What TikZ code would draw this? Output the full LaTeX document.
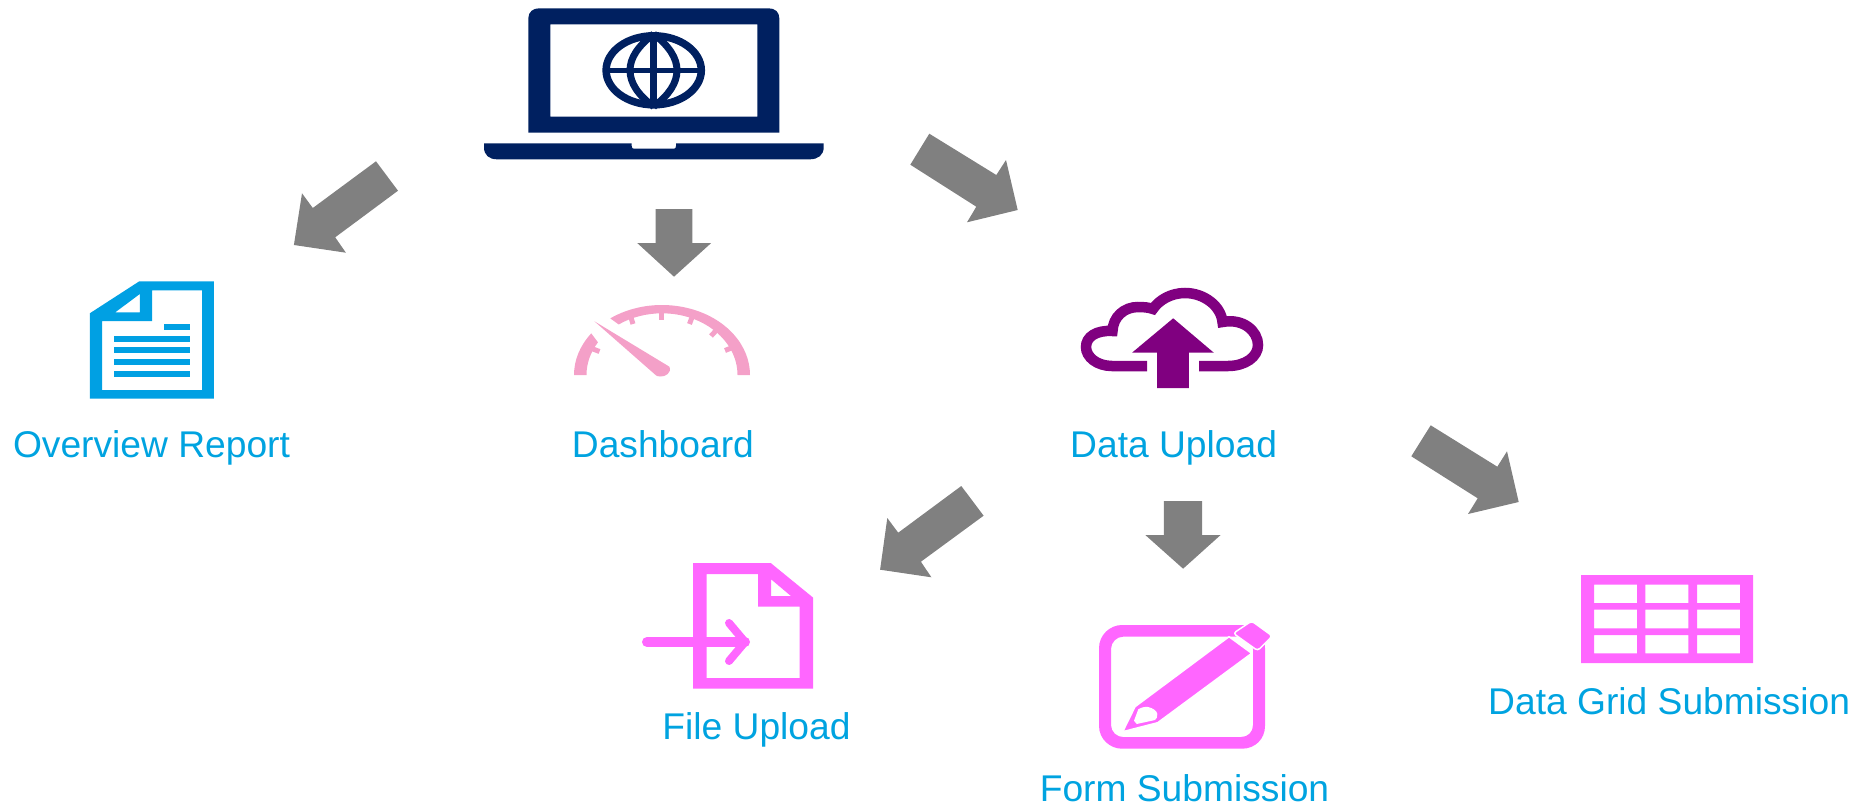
\documentclass[tikz,border=0pt]{standalone}
\usepackage{fontspec}
\setmainfont{Liberation Sans}
\definecolor{navy}{RGB}{0,32,96}
\definecolor{arrowgray}{RGB}{128,128,128}
\definecolor{docblue}{RGB}{0,160,227}
\definecolor{labelblue}{RGB}{0,163,224}
\definecolor{gaugepink}{RGB}{244,160,200}
\definecolor{cloudpurple}{RGB}{128,0,128}
\definecolor{magentaicon}{RGB}{255,102,255}
\tikzset{
 bigarrow/.style={fill=arrowgray,draw=none},
 label text/.style={anchor=base west,inner sep=0pt,outer sep=0pt,text=labelblue,font=\fontsize{37.2}{40}\selectfont},
 tickmark/.style={draw=gaugepink,line width=5pt},
}
\begin{document}
\begin{tikzpicture}[x=1pt,y=-1pt]
\useasboundingbox (0,0) rectangle (1873,806);
% laptop
\fill[navy,even odd rule] (528.3,132.7) -- (528.3,18.3) .. controls (528.3,12) and (533,8.3) .. (539,8.3) -- (768.6,8.3) .. controls (775,8.3) and (779.3,12) .. (779.3,18.3) -- (779.3,132.7) -- cycle
 (550.3,24.3) rectangle (757.3,116.7);
\fill[navy] (484,143.3) -- (631.7,143.3) -- (631.7,146) .. controls (631.7,148) and (632.5,148.7) .. (634,148.7) -- (673.7,148.7) .. controls (675.2,148.7) and (676,148) .. (676,146) -- (676,143.3) -- (823.7,143.3) -- (823.7,147.3) .. controls (823.7,155) and (818,159.3) .. (810,159.3) -- (497,159.3) .. controls (489,159.3) and (484,155) .. (484,147.3) -- cycle;
\draw[navy,line width=7.5pt] (653.7,70.3) ellipse[x radius=47.6,y radius=34.5];
\draw[navy,line width=7pt] (653.7,34) .. controls (638,46) and (630,58) .. (630,70.3) .. controls (630,83) and (638,95) .. (653.7,106.6);
\draw[navy,line width=7pt] (653.7,34) .. controls (669,46) and (677,58) .. (677,70.3) .. controls (677,83) and (669,95) .. (653.7,106.6);
\draw[navy,line width=7pt] (653.7,36) -- (653.7,104.6);
\draw[navy,line width=5pt] (606,70.3) -- (701.4,70.3);
% arrows
\fill[bigarrow] (376,161.3) -- (398,190.7) -- (335.2,237.3) -- (345.9,252.7) -- (293.9,245) -- (302,193.3) -- (312.8,208) -- cycle;
\fill[bigarrow] (655.6,209) -- (692.3,209) -- (692.3,243) -- (711.2,243) -- (674,276.7) -- (637.2,243) -- (655.6,243) -- cycle;
\fill[bigarrow] (929.3,133.7) -- (910.3,164.7) -- (976.3,206.7) -- (967,222.3) -- (1017.7,210) -- (1006,160) -- (996.3,175) -- cycle;
\fill[bigarrow] (1430.7,425.3) -- (1411.3,456.3) -- (1477.7,498.3) -- (1468,514) -- (1518.7,502) -- (1507,451.3) -- (1497.3,466.7) -- cycle;
\fill[bigarrow] (961.3,486) -- (983.6,515.7) -- (920.9,561.7) -- (931.4,577.3) -- (880.1,569.7) -- (887.3,518) -- (898.2,532.7) -- cycle;
\fill[bigarrow] (1163.8,501) -- (1202,501) -- (1202,535) -- (1220.6,535) -- (1183.1,568.7) -- (1145.3,535) -- (1163.8,535) -- cycle;
% overview report
\fill[docblue,even odd rule] (89.8,313.3) -- (139.3,281.3) -- (213.8,281.3) -- (213.8,398.7) -- (89.8,398.7) -- cycle
 (102,321) -- (152,321) -- (152,290.3) -- (202,290.3) -- (202,390) -- (102,390) -- cycle
 (139.8,294) -- (139.8,312.3) -- (115.3,312.3) -- cycle;
\fill[docblue] (163.8,324) rectangle (189.8,330);
\fill[docblue] (113.8,336) rectangle (189.8,342);
\fill[docblue] (113.8,347.3) rectangle (189.8,353);
\fill[docblue] (113.8,359) rectangle (189.8,365);
\fill[docblue] (113.8,370.7) rectangle (189.8,376.7);
\node[label text] (overview) at (13,457.7) {Overview Report};
% gauge
\fill[gaugepink] (574,375) arc[start angle=180,end angle=143.5,x radius=88,y radius=-70] -- ({662+75.5*cos(148)},{375-61.7*sin(148)}) arc[start angle=148,end angle=180,x radius=75.5,y radius=-61.7] -- cycle;
\fill[gaugepink] ({662+88*cos(126)},{375-70*sin(126)}) arc[start angle=126,end angle=0,x radius=88,y radius=-70] -- (737.5,375) arc[start angle=0,end angle=125,x radius=75.5,y radius=-61.7] -- cycle;
\draw[tickmark] (589,347.5) -- (599.5,351.5);
\draw[tickmark] (630.5,316) -- (633,324);
\draw[tickmark] (661.7,312) -- (661.7,320);
\draw[tickmark] (692.5,316) -- (689.5,324);
\draw[tickmark] (717.5,329) -- (711,336);
\draw[tickmark] (735,346.5) -- (725,350.5);
\fill[gaugepink] (594.4,321.3) -- (669.4,366.7) .. controls (672,373) and (665,377) .. (660,376.5) .. controls (657,376.5) and (656,375.5) .. (655.6,375) -- cycle;
\node[label text] (dashboard) at (571.9,457.7) {Dashboard};
% cloud
\draw[cloudpurple,line width=10.5pt] (1147,366) -- (1112,366) .. controls (1097,366) and (1086,357) .. (1086,347) .. controls (1086,337) and (1096,330) .. (1112.5,331) .. controls (1113,317) and (1124,307) .. (1138,307) .. controls (1144,307) and (1149,307.5) .. (1153,309) .. controls (1159,300) and (1171,293) .. (1185,293) .. controls (1204,293) and (1221,306) .. (1222.5,322) .. controls (1243,318) and (1258,331) .. (1258,345) .. controls (1258,357) and (1245,366) .. (1228,366) -- (1199,366);
\fill[cloudpurple] (1173.2,318.3) -- (1213.8,352.7) -- (1188.8,352.7) -- (1188.8,388) -- (1157,388) -- (1157,352.7) -- (1132,352.7) -- cycle;
\node[label text] (upload) at (1070.2,457.7) {Data Upload};
% file upload
\fill[magentaicon,even odd rule] (693.2,563) -- (770.7,563) -- (813.2,597.7) -- (813.2,688.7) -- (693.2,688.7) -- cycle
 (706.7,574) -- (758,574) -- (758,606.7) -- (799.7,606.7) -- (799.7,678) -- (706.7,678) -- cycle
 (771.1,579.3) -- (790.9,596) -- (771.1,596) -- cycle;
\draw[magentaicon,line width=10pt,line cap=round,line join=round] (647,642) -- (745,642);
\draw[magentaicon,line width=8pt,line cap=round,line join=round] (729,623) -- (745,642) -- (729,661);
\node[label text] (file) at (662.4,739.3) {File Upload};
% form
\fill[magentaicon,even odd rule] (1099,648) .. controls (1099,635) and (1110,625) .. (1122,625) -- (1242,625) .. controls (1255,625) and (1265,635) .. (1265,648) -- (1265,726) .. controls (1265,739) and (1255,748.7) .. (1242,748.7) -- (1122,748.7) .. controls (1110,748.7) and (1099,739) .. (1099,726) -- cycle
 (1111,649) .. controls (1111,642) and (1117,636.7) .. (1123,636.7) -- (1241,636.7) .. controls (1248,636.7) and (1253,642) .. (1253,649) -- (1253,725) .. controls (1253,732) and (1248,737) .. (1241,737) -- (1123,737) .. controls (1117,737) and (1111,732) .. (1111,725) -- cycle;
\fill[magentaicon,draw=white,line width=1.5pt,line join=round] (1229,636.7) -- (1251.7,653.3) -- (1157.7,722.7) -- (1122.7,731.7) -- (1135,706.7) -- cycle;
\fill[white] (1138.3,709.3) .. controls (1142,707) and (1146,706.5) .. (1148,707) .. controls (1153,708) and (1157,711) .. (1157.3,714) .. controls (1157.5,717) and (1156.5,719) .. (1155,720) -- (1136.7,724) -- (1134,720.7) -- cycle;
\fill[magentaicon,draw=white,line width=1.5pt,line join=round,rounded corners=3pt] (1233.3,633.3) -- (1251.7,621) -- (1272.3,636) -- (1257.7,650.7) -- cycle;
\node[label text] (form) at (1039.8,801) {Form Submission};
% grid
\fill[magentaicon,even odd rule] (1581,575) rectangle (1753,663)
 (1594,584.7) rectangle (1637,603) (1645.3,584.7) rectangle (1688.3,603) (1697,584.7) rectangle (1740,603)
 (1594,609.7) rectangle (1637,628.3) (1645.3,609.7) rectangle (1688.3,628.3) (1697,609.7) rectangle (1740,628.3)
 (1594,635) rectangle (1637,653.3) (1645.3,635) rectangle (1688.3,653.3) (1697,635) rectangle (1740,653.3);
\node[label text] (grid) at (1488.2,714) {Data Grid Submission};
\end{tikzpicture}
\end{document}
